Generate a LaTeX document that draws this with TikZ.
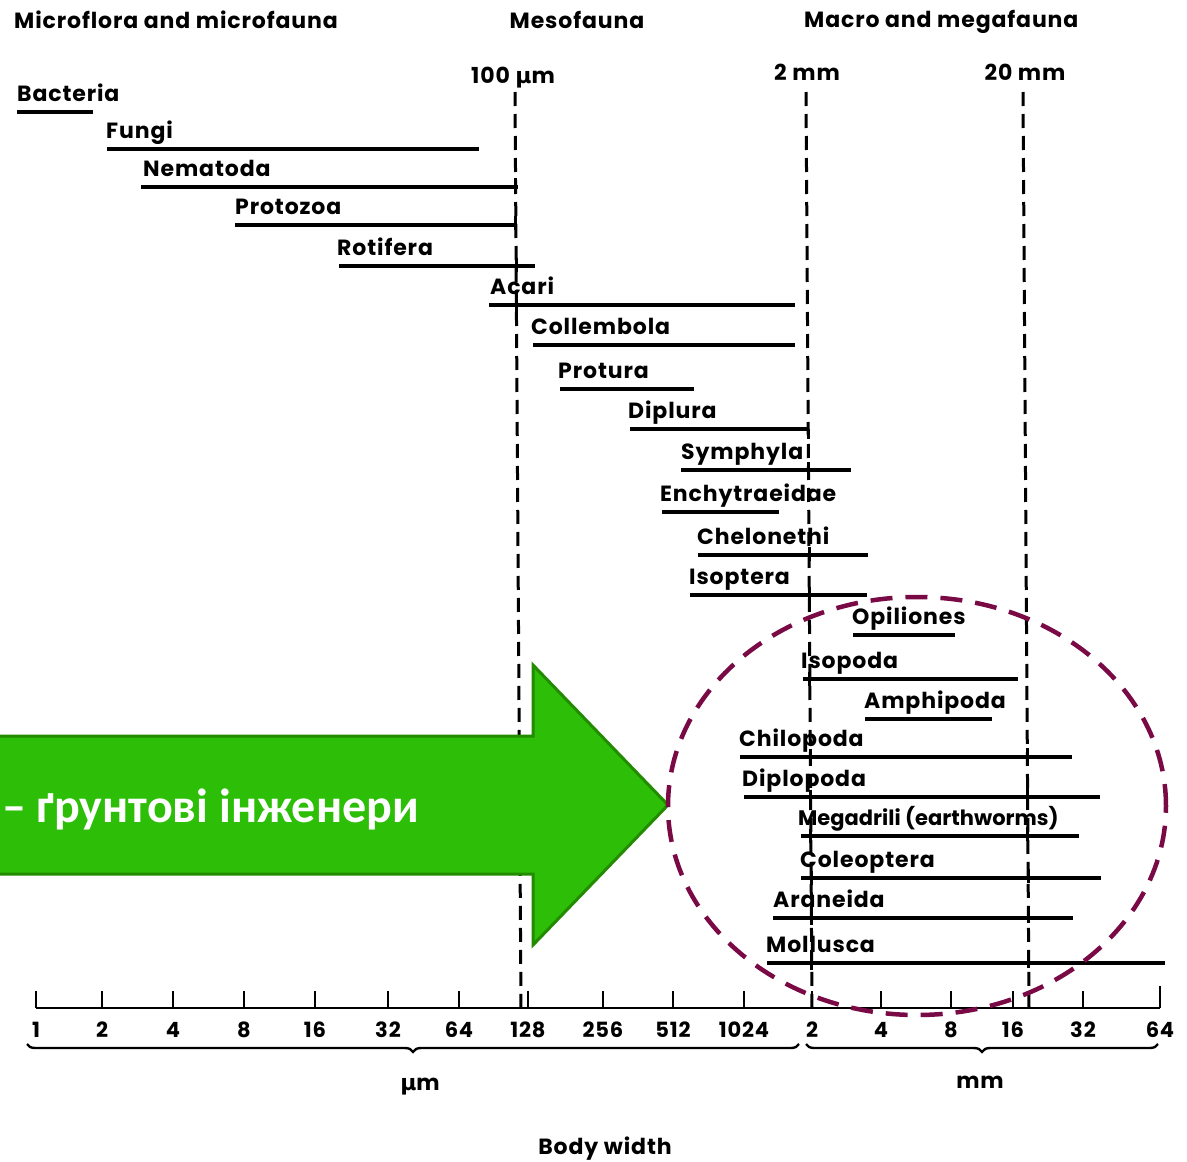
\documentclass[tikz,border=0pt]{standalone}
\usepackage{fontspec}
\setmainfont{Poppins}[LetterSpace=4]
\newfontfamily\plainpop{Poppins}
\newfontfamily\dv{DejaVu Sans}
\newfontfamily\arrowfont{Carlito}
\usetikzlibrary{calc,decorations.pathreplacing}
\definecolor{grn}{HTML}{2DBE07}
\definecolor{grnd}{HTML}{228B00}
\definecolor{plum}{HTML}{7A0A45}
\begin{document}
\begin{tikzpicture}[x=1pt,y=-1pt,
  lab/.style={font=\fontsize{22}{25}\selectfont\bfseries, inner sep=0pt, anchor=base west},
  hd/.style={font=\fontsize{22}{25}\selectfont\bfseries, inner sep=0pt},
  axl/.style={font=\fontsize{21}{24}\selectfont\bfseries, inner sep=0pt, anchor=base},
  bar/.style={line width=3.2pt},
  dline/.style={line width=3pt, dash pattern=on 14pt off 8pt},
  tickline/.style={line width=2.6pt},
  bracestyle/.style={line width=2.4pt, decorate, decoration={brace, amplitude=8pt, mirror}},
  xmark/.style={line width=3pt}]
\fill[white] (0,0) rectangle (1187,1162);
\useasboundingbox (0,0) rectangle (1187,1162);
% headers
\node[hd, anchor=base west] (h1) at (14,28) {Microflora and microfauna};
\node[hd, anchor=base] (h2) at (577,28) {Mesofauna};
\node[hd, anchor=base west] (h3) at (804,27) {Macro and megafauna};
\node[hd, anchor=base] (m100) at (513,83) {100 {\dv μ}m};
\node[hd, anchor=base] (m2) at (807,80) {2 mm};
\node[hd, anchor=base] (m20) at (1025,80) {20 mm};
% dashed reference lines
\coordinate (d1t) at (515,92); \coordinate (d1b) at (521,1008);
\coordinate (d2t) at (806,92); \coordinate (d2b) at (812,1008);
\coordinate (d3t) at (1023,92); \coordinate (d3b) at (1029,1008);
\draw[dline] (d1t) -- (d1b);
\draw[dline] (d2t) -- (d2b);
\draw[dline] (d3t) -- (d3b);
% bars and labels
\foreach \nm/\tx/\lx/\yy/\xa/\xb in {
  bac/Bacteria/17/112/17/93,
  fun/Fungi/106/149/107/479,
  nem/Nematoda/143/187/141/518,
  prz/Protozoa/235/225/235/517,
  rot/Rotifera/337/266/339/535,
  aca/Acari/490/305/489/795,
  col/Collembola/531/345/533/795,
  prt/Protura/558/389/560/694,
  dip/Diplura/628/429/630/808,
  sym/Symphyla/681/470/681/851,
  enc/Enchytraeidae/660/512/662/779,
  che/Chelonethi/697/555/698/868,
  iso/Isoptera/689/595/690/867,
  opi/Opiliones/852/635/853/955,
  isp/Isopoda/801/679/803/1018,
  amp/Amphipoda/864/719/865/992,
  chi/Chilopoda/739/757/740/1072,
  dpl/Diplopoda/742/797/744/1100,
  meg/{\plainpop\fontsize{21}{24}\selectfont\bfseries Megadrili (earthworms)}/798/836/801/1079,
  cle/Coleoptera/800/878/801/1101,
  ara/Araneida/773/918/773/1073,
  mol/Mollusca/766/963/767/1165}{
  \coordinate (\nm-a) at (\xa,\yy);
  \coordinate (\nm-b) at (\xb,\yy);
  \draw[bar] (\nm-a) -- (\nm-b);
  \node[lab] (\nm) at (\lx,\yy-11) {\tx};
}
% crossing marks
\foreach \nm/\ln in {nem/d1,prz/d1,rot/d1,aca/d1,
  sym/d2,che/d2,iso/d2,isp/d2,chi/d2,dpl/d2,meg/d2,cle/d2,ara/d2,mol/d2,
  chi/d3,dpl/d3,meg/d3,cle/d3,ara/d3,mol/d3}{
  \draw[xmark] ($(\ln t)!(\nm-a)!(\ln b)$) ++(0,-7) -- ++(0,14);
}
\draw[xmark] (dip-b) -- ++(0,10);
% axis
\coordinate (ax0) at (36,1008); \coordinate (ax1) at (1160,1008);
\draw[tickline] (ax0) -- (ax1);
\foreach \xx/\lb [count=\i] in {36/1,102/2,173/4,244/8,315/16,388/32,459/64,528/128,603/256,673/512,744/1024,812/2,881/4,951/8,1013/16,1083/32,1160/64}{
  \coordinate (tk\i) at (\xx,1008);
  \draw[tickline] (tk\i) -- ++(0,-17);
  \node[axl] (tl\i) at (\xx,1037) {\lb};
}
\draw[tickline] (tk17) -- ++(0,-22);
% braces
\coordinate (b1a) at (27,1044); \coordinate (b1b) at (799,1044);
\coordinate (b2a) at (806,1044); \coordinate (b2b) at (1158,1044);
\draw[bracestyle] (b1a) -- (b1b);
\draw[bracestyle] (b2a) -- (b2b);
\node[hd, anchor=base] (um) at (420,1090) {{\dv μ}m};
\node[hd, anchor=base] (mm) at (980,1088) {mm};
\node[hd, anchor=base] (bw) at (605,1154) {Body width};
% green arrow
\fill[grn, draw=grnd, line width=3pt, line join=miter]
  (-5,736) -- (533,736) -- (533,665) -- (668,805) -- (533,945) -- (533,874) -- (-5,874) -- cycle;
\node[font=\arrowfont\bfseries\fontsize{48}{50}\selectfont, text=white, inner sep=0pt, anchor=base west] (eng) at (2,822) {– ґрунтові інженери};
% ellipse
\draw[plum, line width=4.5pt, dash pattern=on 22pt off 13pt] (917,806) ellipse [x radius=249pt, y radius=209pt];
\end{tikzpicture}
\end{document}
